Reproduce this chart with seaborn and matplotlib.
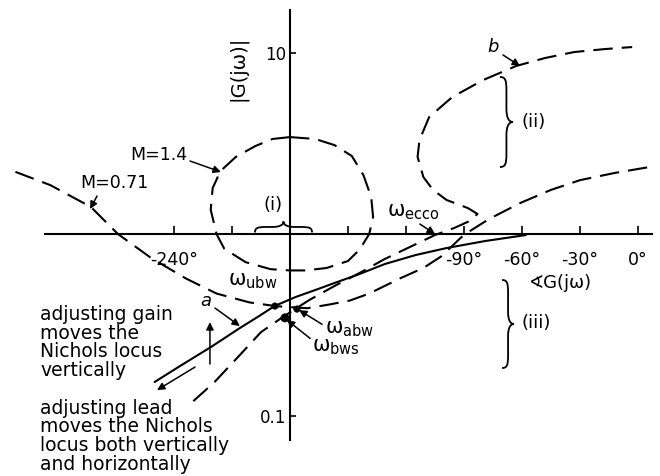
import matplotlib
matplotlib.use("Agg")
import matplotlib.pyplot as plt
from matplotlib.path import Path
from matplotlib.patches import PathPatch
from matplotlib.transforms import IdentityTransform
import numpy as np
import pandas as pd
import seaborn as sns

# ---- Nichols chart data: phase (degrees) and magnitude |G(jw)| on a log axis ----
# M = 0.71 closed-loop contour
m071_phase = [-322, -304, -283, -269, -252, -234, -218, -201, -187, -171, -159,
              -149, -139, -123, -111, -102, -90, -77, -61, -45, -30, -12, 6]
m071_mag = [2.20, 1.86, 1.41, 1.00, 0.74, 0.57, 0.47, 0.42, 0.40, 0.39, 0.41,
            0.43, 0.47, 0.57, 0.65, 0.75, 0.99, 1.21, 1.48, 1.75, 1.98, 2.17, 2.34]

# M = 1.4 closed-loop contour (closed curve round -180 deg)
m14_phase = [-180, -167, -157, -148, -142, -138, -137, -139, -144, -150, -161, -172,
             -180, -190, -203, -214, -218, -221, -220, -216, -208, -198, -189, -180]
m14_mag = [3.42, 3.34, 3.09, 2.69, 2.11, 1.60, 1.24, 1.00, 0.82, 0.71, 0.65, 0.63,
           0.63, 0.64, 0.70, 0.83, 1.00, 1.36, 1.79, 2.22, 2.66, 3.05, 3.34, 3.42]

# Open-loop locus a (solid)
locus_a_phase = [-250, -237, -221, -206, -196, -188, -177, -167, -157, -144,
                 -131, -115, -99, -79, -58]
locus_a_mag = [0.153, 0.187, 0.238, 0.303, 0.353, 0.401, 0.450, 0.491, 0.537,
               0.602, 0.683, 0.766, 0.837, 0.915, 0.987]

# Open-loop locus b (dashed)
locus_b_phase = [-230, -219, -206, -195, -183, -170, -157, -144, -131, -118, -105,
                 -95, -87, -83, -88, -99, -106, -111, -114, -113, -108, -96, -80,
                 -63, -48, -33, -17, -3]
locus_b_mag = [0.120, 0.153, 0.215, 0.288, 0.353, 0.433, 0.517, 0.610, 0.728,
               0.848, 0.987, 1.08, 1.18, 1.29, 1.39, 1.54, 1.75, 2.06, 2.66, 3.30,
               4.41, 5.69, 7.06, 8.43, 9.33, 10.06, 10.45, 10.72]

# Marked frequencies
freq_names = ["ubw", "abw", "bws"]
freq_phase = [-187.8, -176.4, -182.6]
freq_mag = [0.401, 0.386, 0.345]
freq_size = [22, 22, 36]

# Axis ticks
phase_ticks = [-240, -210, -150, -120, -90, -60, -30, 0]
phase_ticklabels = ["-240°", "", "", "", "-90°", "-60°", "-30°", "0°"]
mag_ticks = [0.1, 10]
mag_ticklabels = ["0.1", "10"]

# ---- styling ----
sns.set_theme(style="white")
plt.rcParams["font.family"] = ["DejaVu Sans"]
plt.rcParams["mathtext.fontset"] = "custom"
plt.rcParams["mathtext.rm"] = "DejaVu Sans"
plt.rcParams["mathtext.it"] = "DejaVu Sans"
plt.rcParams["lines.scale_dashes"] = False
for key in ["text.color", "axes.labelcolor", "xtick.color", "ytick.color", "axes.edgecolor"]:
    plt.rcParams[key] = "black"

INK = "black"
DASH = (0, (14, 6.5))

fig = plt.figure(figsize=(6.6, 4.76), dpi=100)
ax = fig.add_axes([0, 0, 1, 1])
ax.set_yscale("log")
ax.set_xlim(-330.0, 11.4)
ax.set_ylim(0.04642, 19.47)
ax.set_facecolor("white")


def draw_locus(phase, mag, dashed):
    df = pd.DataFrame({"phase": phase, "mag": mag})
    sns.lineplot(data=df, x="phase", y="mag", sort=False, estimator=None,
                 color=INK, lw=1.5, linestyle=DASH if dashed else "-", ax=ax)


draw_locus(m071_phase, m071_mag, True)
draw_locus(m14_phase, m14_mag, True)
draw_locus(locus_b_phase, locus_b_mag, True)
draw_locus(locus_a_phase, locus_a_mag, False)

sns.scatterplot(x=freq_phase, y=freq_mag, size=freq_size, sizes=(22, 36),
                color=INK, edgecolor=INK, legend=False, zorder=5, ax=ax)

# ---- axes crossing at (-180 deg, |G| = 1) ----
for side in ["top", "right"]:
    ax.spines[side].set_visible(False)
ax.spines["left"].set_position(("data", -180))
ax.spines["bottom"].set_position(("data", 1))
ax.spines["left"].set_bounds(0.0733, 17.15)
ax.spines["bottom"].set_bounds(-306.7, 7.2)
for side in ["left", "bottom"]:
    ax.spines[side].set_linewidth(1.5)
    ax.spines[side].set_color(INK)

ax.set_xticks(phase_ticks)
ax.set_xticklabels(phase_ticklabels)
ax.set_yticks(mag_ticks)
ax.set_yticklabels(mag_ticklabels)
ax.yaxis.set_minor_locator(matplotlib.ticker.NullLocator())
ax.tick_params(axis="x", bottom=True, direction="in", length=6, width=1.2,
               labelsize=12.5, pad=12)
ax.tick_params(axis="y", left=True, direction="in", length=4, width=1.2,
               labelsize=12, pad=3)
ax.set_xlabel("")
ax.set_ylabel("")
ax.grid(False)

ax.text(-206.9, 8.22, "|G(jω)|", rotation=90, ha="center", va="center", fontsize=14)
ax.text(-40.3, 0.537, "∢G(jω)", ha="center", va="center", fontsize=13)

# ---- annotations ----
def arrow(tail, tip, lw=1.1):
    ax.annotate("", xy=tip, xytext=tail,
                arrowprops=dict(arrowstyle="-|>", color=INK, lw=lw,
                                mutation_scale=11, shrinkA=0, shrinkB=0))


ax.text(-247.8, 2.725, "M=1.4", ha="center", va="center", fontsize=12.5)
arrow((-231.7, 2.525), (-215.7, 2.196))
ax.text(-271.0, 1.91, "M=0.71", ha="center", va="center", fontsize=12.5)
arrow((-279.8, 1.62), (-283.4, 1.373))
ax.text(-75.0, 10.73, "b", ha="center", va="center", fontsize=13, style="italic")
arrow((-69.8, 9.69), (-61.0, 8.43))
ax.text(-223.4, 0.427, "a", ha="center", va="center", fontsize=13, style="italic")
arrow((-218.8, 0.391), (-205.9, 0.311))

ax.text(-116.4, 1.32, r"$\omega_{\mathrm{ecco}}$", ha="center", va="center", fontsize=15)
arrow((-112.8, 1.135), (-105.0, 1.0))
ax.text(-199.1, 0.551, r"$\omega_{\mathrm{ubw}}$", ha="center", va="center", fontsize=15)
ax.text(-161.9, 0.2996, r"$\omega_{\mathrm{abw}}$", ha="left", va="center", fontsize=15)
arrow((-163.4, 0.318), (-175.3, 0.381))
ax.text(-168.6, 0.2384, r"$\omega_{\mathrm{bws}}$", ha="left", va="center", fontsize=15)
arrow((-169.6, 0.266), (-181.6, 0.336))

# gain and lead adjustment arrows
arrow((-221.4, 0.192), (-221.4, 0.327))
arrow((-229.1, 0.185), (-248.8, 0.138))

ax.text(-309.3, 0.406, "adjusting gain\nmoves the\nNichols locus\nvertically",
        ha="left", va="top", fontsize=13.5, linespacing=0.97)
ax.text(-309.3, 0.1235, "adjusting lead\nmoves the Nichols\nlocus both vertically\nand horizontally",
        ha="left", va="top", fontsize=13.5, linespacing=0.97)


def curly_brace(p_start, p_end, width_px, lw=1.3):
    """Curly brace between two data points; the tip bulges to the left of start->end."""
    (x0, y0), (x1, y1) = ax.transData.transform([p_start, p_end])
    d = np.array([x1 - x0, y1 - y0])
    L = np.hypot(*d)
    d = d / L
    n = np.array([-d[1], d[0]])
    w = width_px
    h = w / 2.0
    r = min(w, L / 4.0)
    m = L / 2.0
    local = [
        (0, 0),
        (0, 0.8 * h), (0.2 * r, h), (r, h),
        (m - r, h),
        (m - 0.4 * r, h), (m, 1.3 * h), (m, w),
        (m, 1.3 * h), (m + 0.4 * r, h), (m + r, h),
        (L - r, h),
        (L - 0.2 * r, h), (L, 0.8 * h), (L, 0),
    ]
    codes = [Path.MOVETO,
             Path.CURVE4, Path.CURVE4, Path.CURVE4,
             Path.LINETO,
             Path.CURVE4, Path.CURVE4, Path.CURVE4,
             Path.CURVE4, Path.CURVE4, Path.CURVE4,
             Path.LINETO,
             Path.CURVE4, Path.CURVE4, Path.CURVE4]
    verts = [np.array([x0, y0]) + u * d + v * n for u, v in local]
    ax.add_patch(PathPatch(Path(verts, codes), transform=IdentityTransform(),
                           facecolor="none", edgecolor=INK, lw=lw))


# (i): phase range at unity gain; (ii), (iii): magnitude ranges
curly_brace((-198.1, 1.02), (-168.6, 1.02), 11)
curly_brace((-71.4, 7.33), (-71.4, 2.34), 13)
curly_brace((-70.3, 0.558), (-70.3, 0.1827), 12)
ax.text(-188.8, 1.445, "(i)", ha="center", va="center", fontsize=13)
ax.text(-60.0, 4.14, "(ii)", ha="left", va="center", fontsize=13)
ax.text(-60.0, 0.3233, "(iii)", ha="left", va="center", fontsize=13)

fig.savefig("out.png", dpi=100, facecolor="white")
